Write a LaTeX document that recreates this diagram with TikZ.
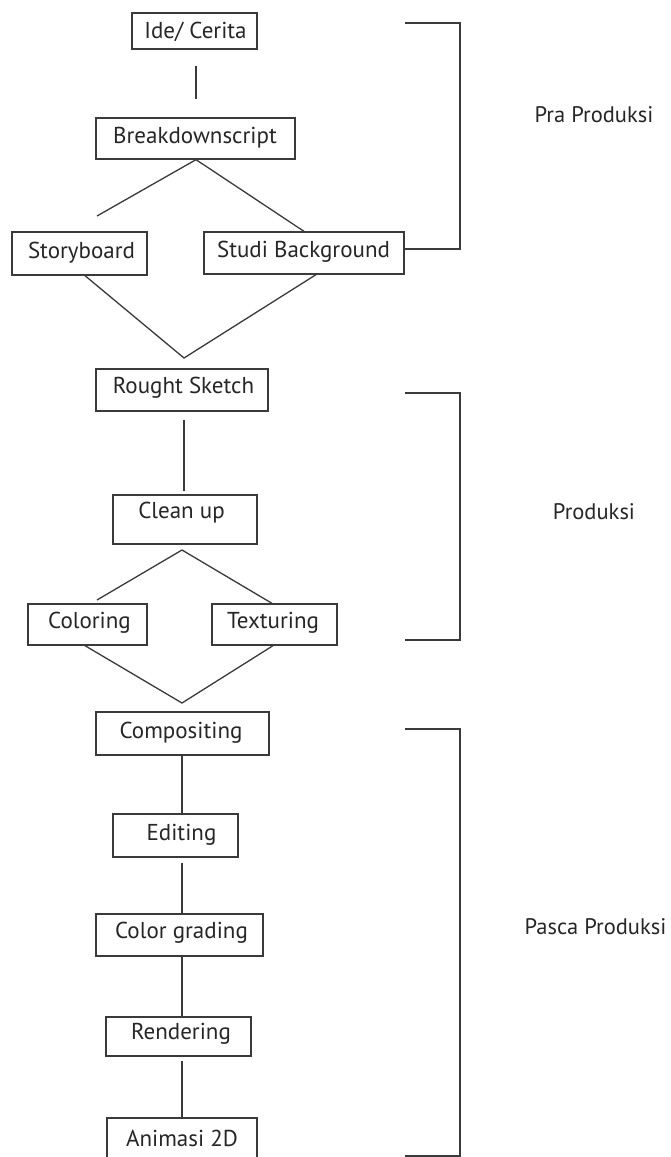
\documentclass[tikz,border=0pt]{standalone}
\usepackage{fontspec}
\setmainfont{PT Sans}
\definecolor{ink}{HTML}{3A3A3A}
\definecolor{txtc}{HTML}{262626}
\begin{document}
\begin{tikzpicture}[x=1pt,y=-1pt,
  stagebox/.style={draw=ink,line width=1.3pt,rectangle,inner sep=0pt},
  lbl/.style={text=txtc,font=\fontsize{23}{26}\selectfont,inner sep=0pt,anchor=center},
  phase/.style={text=txtc,font=\fontsize{22.5}{26}\selectfont,inner sep=0pt,anchor=center},
  conn/.style={draw=ink,line width=1.3pt},
  brk/.style={draw=ink,line width=1.3pt}]
\useasboundingbox (0,0) rectangle (670,1157);
\clip (0,0) rectangle (670,1157);
\fill[white] (0,0) rectangle (670,1157);

% boxes
\node[stagebox,minimum width=125pt,minimum height=36pt] (ide) at (194.5,31) {};
\node[stagebox,minimum width=199pt,minimum height=41pt] (bd) at (195.5,138.5) {};
\node[stagebox,minimum width=135pt,minimum height=43pt] (sb) at (79.5,253.5) {};
\node[stagebox,minimum width=200pt,minimum height=42pt] (studi) at (304,253) {};
\node[stagebox,minimum width=172pt,minimum height=42pt] (rs) at (182,390) {};
\node[stagebox,minimum width=144pt,minimum height=49pt] (cu) at (185,519.5) {};
\node[stagebox,minimum width=119pt,minimum height=41pt] (col) at (87.5,624.5) {};
\node[stagebox,minimum width=125pt,minimum height=41pt] (tex) at (274.5,624.5) {};
\node[stagebox,minimum width=173pt,minimum height=43pt] (comp) at (182.5,733.5) {};
\node[stagebox,minimum width=125pt,minimum height=43pt] (edit) at (175.5,835.5) {};
\node[stagebox,minimum width=167pt,minimum height=42pt] (cg) at (179.5,935) {};
\node[stagebox,minimum width=145pt,minimum height=39pt] (rend) at (178.5,1036.5) {};
\node[stagebox,minimum width=150pt,minimum height=44pt] (anim) at (182,1140) {};

% texts
\node[lbl] (tide) at (195.5,32) {Ide/ Cerita};
\node[lbl] (tbd) at (195,138) {Breakdownscript};
\node[lbl] (tsb) at (81.5,253) {Storyboard};
\node[lbl] (tstudi) at (303.5,252) {Studi Background};
\node[lbl] (trs) at (183.5,388) {Rought Sketch};
\node[lbl] (tcu) at (181.5,513) {Clean up};
\node[lbl] (tcol) at (89.5,623) {Coloring};
\node[lbl] (ttex) at (273,623) {Texturing};
\node[lbl] (tcomp) at (181,733) {Compositing};
\node[lbl] (tedit) at (181.5,835) {Editing};
\node[lbl] (tcg) at (181.5,933) {Color grading};
\node[lbl] (trend) at (181,1034) {Rendering};
\node[lbl] (tanim) at (182,1138) {Animasi 2D};

% free ends / vertices
\coordinate (sbend) at (97,216);
\coordinate (v1) at (184,358);
\coordinate (v2) at (182,550);
\coordinate (colend) at (97,600);
\coordinate (v3) at (182,703);

% connectors
\draw[conn] ([xshift=1.5pt,yshift=-16pt]ide.south) -- ([xshift=0.5pt,yshift=18pt]bd.north);
\draw[conn] (sbend) -- ([xshift=0.5pt]bd.south) -- (studi.north);
\draw[conn] ([xshift=5.5pt]sb.south) -- (v1) -- ([xshift=12pt]studi.south);
\draw[conn] ([xshift=2pt,yshift=-8pt]rs.south) -- ([xshift=-1pt,yshift=3pt]cu.north);
\draw[conn] (colend) -- (v2) -- ([xshift=-2.5pt]tex.north);
\draw[conn] ([xshift=-2.5pt]col.south) -- (v3) -- ([xshift=-1.5pt]tex.south);
\draw[conn] (comp.south -| v3) -- (edit.north -| v3);
\draw[conn] ([yshift=-5pt]edit.south -| v3) -- (cg.north -| v3);
\draw[conn] (cg.south -| v3) -- (rend.north -| v3);
\draw[conn] ([yshift=-4pt]rend.south -| v3) -- (anim.north -| v3);

% brackets
\coordinate (praTop) at (405,23);
\coordinate (prodTop) at (405,393);
\coordinate (prodBot) at (405,640);
\coordinate (pasTop) at (405,729);
\coordinate (pasBot) at (405,1156);
\draw[brk] (praTop) -- (460,23) -- (460,249) -- (studi.east |- 0,249);
\draw[brk] (prodTop) -- (460,393) -- (460,640) -- (prodBot);
\draw[brk] (pasTop) -- (460,729) -- (460,1156) -- (pasBot);

\node[phase] (pra) at (594,115) {Pra Produksi};
\node[phase] (prod) at (594,512) {Produksi};
\node[phase] (pasca) at (595.5,927) {Pasca Produksi};
\end{tikzpicture}
\end{document}
